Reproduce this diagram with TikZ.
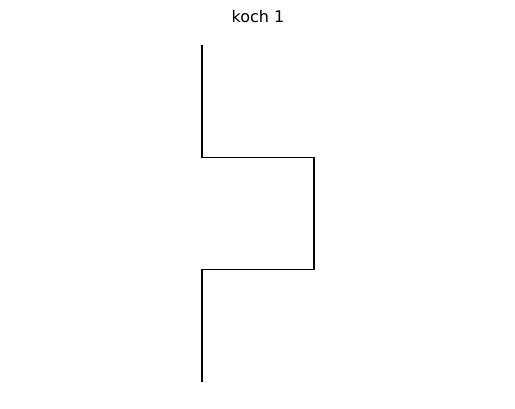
\documentclass[tikz,border=0pt]{standalone}
\usepackage{fontspec}
\setmainfont{DejaVu Sans}
\begin{document}
\begin{tikzpicture}[x=0.75pt,y=-0.75pt,
  curve/.style={line width=1.1pt,line join=miter,line cap=butt},
  titlestyle/.style={font=\fontsize{12}{14}\selectfont,inner sep=0pt}]
\useasboundingbox (0,0) rectangle (515,409);
\coordinate (p0) at (202,45);
\coordinate (p1) at (202,157.3);
\coordinate (p2) at (314,157.3);
\coordinate (p3) at (314,269.6);
\coordinate (p4) at (202,269.6);
\coordinate (p5) at (202,382);
\draw[curve] (p0) -- (p1) -- (p2) -- (p3) -- (p4) -- (p5);
\node[titlestyle,anchor=base] (title) at (258,22.5) {koch 1};
\end{tikzpicture}
\end{document}
